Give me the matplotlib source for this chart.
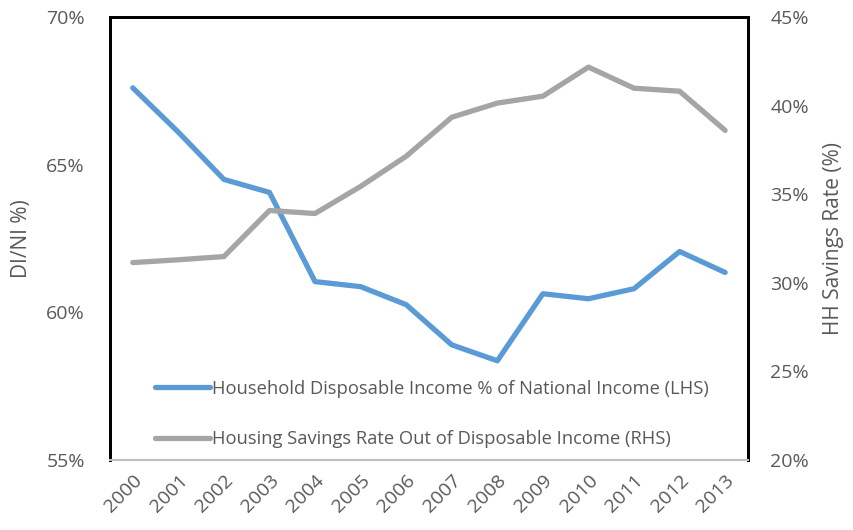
import numpy as np
import matplotlib.pyplot as plt

plt.rcParams['font.family'] = ['Open Sans', 'DejaVu Sans']

years = [str(y) for y in range(2000, 2014)]
di_ni = [67.6, 66.1, 64.5, 64.06, 61.04, 60.87, 60.26, 58.9, 58.36, 60.63, 60.46, 60.8, 62.06, 61.35]
savings = [31.14, 31.3, 31.48, 34.08, 33.91, 35.44, 37.14, 39.34, 40.14, 40.53, 42.17, 40.98, 40.81, 38.6]

txt = '#595959'
fig = plt.figure(figsize=(8.54, 5.3), dpi=100)
ax = fig.add_axes([0.1288, 0.132, 0.747, 0.836])
ax2 = ax.twinx()

x = np.arange(len(years))
l1, = ax.plot(x, di_ni, color='#5B9BD5', lw=3.8, solid_capstyle='round',
              label='Household Disposable Income % of National Income (LHS)')
l2, = ax2.plot(x, savings, color='#A5A5A5', lw=3.8, solid_capstyle='round',
               label='Housing Savings Rate Out of Disposable Income (RHS)')

ax.set_xlim(-0.5, 13.5)
ax.set_ylim(55, 70)
ax2.set_ylim(20, 45)
ax.set_yticks([55, 60, 65, 70])
ax.set_yticklabels(['55%', '60%', '65%', '70%'])
ax2.set_yticks([20, 25, 30, 35, 40, 45])
ax2.set_yticklabels(['20%', '25%', '30%', '35%', '40%', '45%'])
ax.set_xticks(x)
ax.set_xticklabels(years, rotation=45, ha='right', rotation_mode='anchor')

for a in (ax, ax2):
    a.tick_params(length=0, labelsize=14, labelcolor=txt, pad=18)
    for side in ('top', 'left', 'right'):
        a.spines[side].set_color('black')
        a.spines[side].set_linewidth(2)
    a.spines['bottom'].set_color('#BFBFBF')
    a.spines['bottom'].set_linewidth(1.5)
ax.tick_params(axis='x', pad=8)
ax2.tick_params(axis='y', pad=16)

ax.set_ylabel('DI/NI %)', fontsize=15, color=txt, labelpad=10)
ax2.set_ylabel('HH Savings Rate (%)', fontsize=15, color=txt, labelpad=10)

ax.legend(handles=[l1, l2], loc='lower left', bbox_to_anchor=(0.045, -0.01),
          frameon=False, fontsize=13.2, labelcolor=txt, handlelength=3.0,
          handletextpad=0.1, labelspacing=1.75)

fig.savefig('out.png', dpi=100)
